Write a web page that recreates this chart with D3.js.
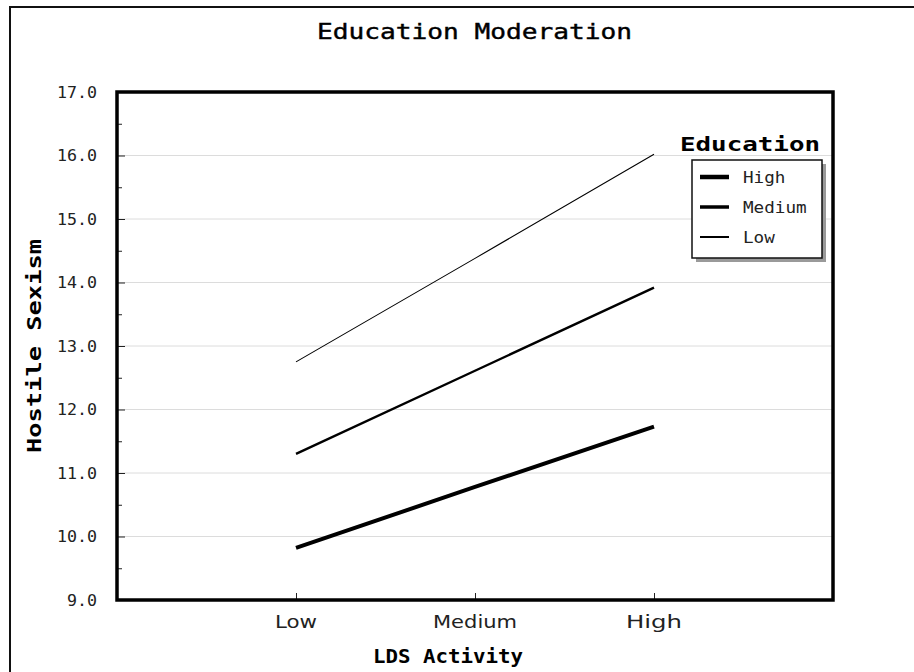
<!DOCTYPE html>
<html><head><meta charset="utf-8">
<script src="https://cdn.jsdelivr.net/npm/d3@7"></script>
<style>body{margin:0;background:#fff}svg{display:block}</style>
</head><body>
<script>
const categories = ["Low", "Medium", "High"];
const seriesNames = ["High", "Medium", "Low"];
const highEdu = [9.82, 10.78, 11.73];
const mediumEdu = [11.30, 12.61, 13.92];
const lowEdu = [12.75, 14.38, 16.02];
const yTicks = [9, 10, 11, 12, 13, 14, 15, 16, 17];
const yMinor = [9.5, 10.5, 11.5, 12.5, 13.5, 14.5, 15.5, 16.5];

const W = 914, H = 672;
const m = {l: 117, t: 92, r: 833, b: 600};
const svg = d3.select("body").append("svg").attr("width", W).attr("height", H);
const mono = "'DejaVu Sans Mono', monospace";

// outer frame
svg.append("path").attr("d", `M10,${H+2} L10,7 L${W+2},7`).attr("fill", "none").attr("stroke", "#111").attr("stroke-width", 2);

const x = d3.scalePoint().domain(categories).range([m.l, m.r]).padding(1);
const y = d3.scaleLinear().domain([9, 17]).range([m.b, m.t]);

function fitText(sel, len) { sel.attr("textLength", len).attr("lengthAdjust", "spacingAndGlyphs"); return sel; }

// gridlines
svg.append("g").selectAll("line").data(yTicks.slice(1, -1)).join("line")
  .attr("x1", m.l).attr("x2", m.r).attr("y1", d => y(d)).attr("y2", d => y(d))
  .attr("stroke", "#dcdcdc").attr("stroke-width", 1);

// y axis ticks (inward) via d3 axis
const yAxis = svg.append("g").attr("transform", `translate(${m.l},0)`)
  .call(d3.axisRight(y).tickValues(yTicks).tickSize(8).tickFormat(""));
yAxis.select(".domain").remove();
yAxis.selectAll("line").attr("stroke", "#222");
const yAxisMinor = svg.append("g").attr("transform", `translate(${m.l},0)`)
  .call(d3.axisRight(y).tickValues(yMinor).tickSize(5).tickFormat(""));
yAxisMinor.select(".domain").remove();
yAxisMinor.selectAll("line").attr("stroke", "#222");

// y labels
svg.append("g").selectAll("text").data(yTicks).join("text")
  .attr("x", 97).attr("y", d => y(d) + 5.5).attr("text-anchor", "end")
  .attr("font-family", mono).attr("font-size", 16).attr("fill", "#222")
  .text(d => d3.format(".1f")(d))
  .each(function(d){ fitText(d3.select(this), 10 * d3.format(".1f")(d).length); });

// x axis ticks (inward)
const xAxis = svg.append("g").attr("transform", `translate(0,${m.b})`)
  .call(d3.axisTop(x).tickSize(7).tickFormat(""));
xAxis.select(".domain").remove();
xAxis.selectAll("line").attr("stroke", "#222");

svg.append("g").selectAll("text").data(categories).join("text")
  .attr("x", d => x(d)).attr("y", 628).attr("text-anchor", "middle")
  .attr("font-family", "'Liberation Sans Narrow','DejaVu Sans Condensed',sans-serif").attr("font-size", 18).attr("fill", "#222")
  .text(d => d)
  .each(function(d){ fitText(d3.select(this), 14 * d.length); });

// series lines
const series = [
  {name: "High", values: highEdu, w: 4},
  {name: "Medium", values: mediumEdu, w: 2.4},
  {name: "Low", values: lowEdu, w: 1.1}
];
const line = d3.line().x((d, i) => x(categories[i])).y(d => y(d));
svg.append("g").selectAll("path").data(series).join("path")
  .attr("d", d => line(d.values)).attr("fill", "none").attr("stroke", "#000")
  .attr("stroke-width", d => d.w);

// plot frame
svg.append("rect").attr("x", m.l).attr("y", m.t).attr("width", m.r - m.l).attr("height", m.b - m.t)
  .attr("fill", "none").attr("stroke", "#000").attr("stroke-width", 3.5);

// title
fitText(svg.append("text").attr("x", 474.5).attr("y", 39).attr("text-anchor", "middle")
  .attr("font-family", mono).attr("font-size", 21).attr("fill", "#000").attr("stroke", "#000").attr("stroke-width", 0.4)
  .text("Education Moderation"), 315);

// axis titles
fitText(svg.append("text").attr("x", 448).attr("y", 663).attr("text-anchor", "middle")
  .attr("font-family", mono).attr("font-weight", "bold").attr("font-size", 19).attr("fill", "#000")
  .text("LDS Activity"), 150);
fitText(svg.append("text").attr("transform", `translate(41,${(m.t + m.b) / 2}) rotate(-90)`)
  .attr("text-anchor", "middle")
  .attr("font-family", mono).attr("font-weight", "bold").attr("font-size", 19).attr("fill", "#000")
  .text("Hostile Sexism"), 214);

// legend
const lg = svg.append("g");
fitText(lg.append("text").attr("x", 750).attr("y", 151).attr("text-anchor", "middle")
  .attr("font-family", mono).attr("font-weight", "bold").attr("font-size", 19).attr("fill", "#000")
  .text("Education"), 140);
lg.append("rect").attr("x", 696).attr("y", 164).attr("width", 130).attr("height", 98).attr("fill", "#9a9a9a");
lg.append("rect").attr("x", 692).attr("y", 160).attr("width", 130).attr("height", 98)
  .attr("fill", "#fff").attr("stroke", "#111").attr("stroke-width", 1.5);
const legW = [4.5, 3.5, 2];
const items = lg.selectAll("g.item").data(series).join("g").attr("class", "item")
  .attr("transform", (d, i) => `translate(0,${177 + i * 30})`);
items.append("line").attr("x1", 700).attr("x2", 729).attr("y1", 0).attr("y2", 0)
  .attr("stroke", "#000").attr("stroke-width", (d, i) => legW[i]);
items.append("text").attr("x", 743).attr("y", 5.5).attr("font-family", mono).attr("font-size", 15).attr("fill", "#222")
  .text(d => d.name)
  .each(function(d){ fitText(d3.select(this), 10.6 * d.name.length); });
</script>
</body></html>
